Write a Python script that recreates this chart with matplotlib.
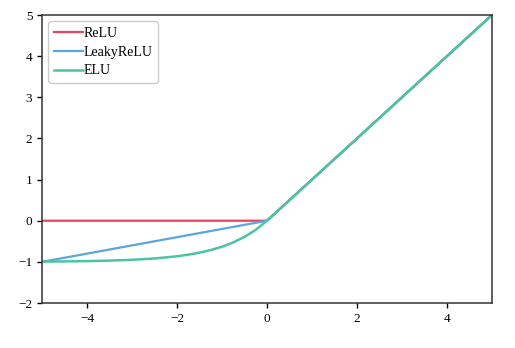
import matplotlib
matplotlib.use("Agg")
import matplotlib.pyplot as plt

plt.rcParams["font.family"] = ["Liberation Serif", "DejaVu Serif"]

relu_x = [-5, 0, 5]
relu_y = [0, 0, 5]

leaky_x = [-5, 0, 5]
leaky_y = [-1, 0, 5]

# ELU
elu_x = [-5, -4.5, -4, -3.5, -3, -2.5, -2, -1.75, -1.5, -1.25, -1, -0.75, -0.5, -0.25, 0, 5]
elu_y = [-0.993, -0.989, -0.982, -0.970, -0.950, -0.918, -0.865, -0.826, -0.777, -0.713,
         -0.632, -0.528, -0.393, -0.221, 0, 5]

fig = plt.figure(figsize=(5.15, 3.48), dpi=100)
ax = fig.add_axes([42 / 515, 45 / 348, 450 / 515, 288 / 348])

ax.plot(relu_x, relu_y, color="#e8435f", lw=1.6, label="ReLU")
ax.plot(leaky_x, leaky_y, color="#5ba6dd", lw=1.6, label="LeakyReLU")
ax.plot(elu_x, elu_y, color="#4cc3a2", lw=1.8, label="ELU")

ax.set_xlim(-5, 5)
ax.set_ylim(-2, 5)
ax.set_xticks([-4, -2, 0, 2, 4])
ax.set_yticks(range(-2, 6))
ax.tick_params(labelsize=9.5, length=3.5, width=1)
for s in ax.spines.values():
    s.set_linewidth(1.1)
    s.set_color("#333333")

ax.legend(loc="upper left", fontsize=10, handlelength=2.1, handletextpad=0.05,
          borderaxespad=0.45, labelspacing=0.42, framealpha=1, edgecolor="#cccccc")

fig.savefig("out.png", dpi=100)
